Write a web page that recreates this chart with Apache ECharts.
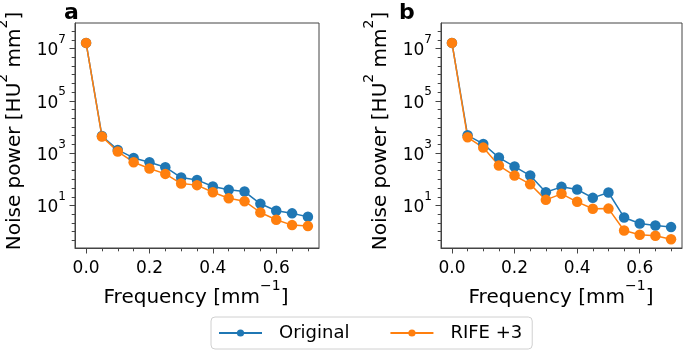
<!DOCTYPE html>
<html>
<head>
<meta charset="utf-8">
<script src="https://cdn.jsdelivr.net/npm/echarts@6/dist/echarts.min.js"></script>
<style>
  html, body { margin: 0; padding: 0; background: #fff; }
  #chart { width: 685px; height: 352px; }
</style>
</head>
<body>
<div id="chart"></div>
<script>
var freq = [0, 0.05, 0.1, 0.15, 0.2, 0.25, 0.3, 0.35, 0.4, 0.45, 0.5, 0.55, 0.6, 0.65, 0.7]
var aOriginal = [1.64e7, 4540, 1330, 658, 450, 290, 117, 95, 53, 40, 34, 11.6, 6.3, 5.0, 3.7]
var aRife = [1.64e7, 4290, 1150, 450, 258, 161, 69, 60, 32, 19, 14.6, 5.4, 2.84, 1.78, 1.63]
var bOriginal = [1.64e7, 4810, 2250, 678, 307, 139, 32, 51.5, 40.7, 19.6, 31.3, 3.49, 2.06, 1.73, 1.49]
var bRife = [1.64e7, 4040, 1630, 336, 139, 65, 16.4, 27.9, 13.8, 7.5, 7.6, 1.11, 0.76, 0.70, 0.51]
var seriesNames = ['Original', 'RIFE +3']
var xTicks = [0, 0.2, 0.4, 0.6]
var xMinorTicks = [0.05, 0.1, 0.15, 0.25, 0.3, 0.35, 0.45, 0.5, 0.55, 0.65, 0.7]
var yTickPowers = [1, 3, 5, 7]
var yMinorPowers = [-1 / 3, 0, 1 / 3, 2 / 3, 1, 4 / 3, 5 / 3, 2, 7 / 3, 8 / 3, 3, 10 / 3, 11 / 3, 4, 13 / 3, 14 / 3, 5, 16 / 3, 17 / 3, 6, 19 / 3, 20 / 3, 7, 22 / 3, 23 / 3]

var font = 'DejaVu Sans'
var frame = '#444'
var colors = ['#1f77b4', '#ff7f0e']

// log10 of the values, drawn on a linear axis so ticks sit where matplotlib put them
function toLog(values) {
  return values.map(function (v, i) { return [freq[i], Math.log10(v)] })
}

function xMajor(grid) {
  return {
    type: 'value', gridIndex: grid, position: 'bottom', min: -0.035, max: 0.735,
    axisLine: { show: true, onZero: false, lineStyle: { color: frame, width: 1 } },
    axisTick: { show: true, customValues: xTicks, length: 5.5, lineStyle: { color: frame, width: 1 } },
    axisLabel: {
      show: true, customValues: xTicks, margin: 12, color: '#000', fontFamily: font, fontSize: 17,
      formatter: function (v) { return v.toFixed(1) }
    },
    splitLine: { show: false }
  }
}
function xMinor(grid) {
  return {
    type: 'value', gridIndex: grid, position: 'bottom', min: -0.035, max: 0.735,
    axisLine: { show: false, onZero: false },
    axisTick: { show: true, customValues: xMinorTicks, length: 3.3, lineStyle: { color: frame, width: 1 } },
    axisLabel: { show: false },
    splitLine: { show: false }
  }
}
function yMajor(grid) {
  return {
    type: 'value', gridIndex: grid, position: 'left', min: -0.625, max: 7.975,
    axisLine: { show: true, onZero: false, lineStyle: { color: frame, width: 1 } },
    axisTick: { show: true, customValues: yTickPowers, length: 5.5, lineStyle: { color: frame, width: 1 } },
    axisLabel: {
      show: true, customValues: yTickPowers, margin: 9, color: '#000',
      fontFamily: font, fontSize: 17,
      formatter: function (v) { return '{m|10}{s|' + v + '}' },
      rich: {
        m: { fontFamily: font, fontSize: 17, color: '#000', padding: [5, 0, 0, 0] },
        s: { fontFamily: font, fontSize: 12, color: '#000', padding: [0, 0, 17, 0] }
      }
    },
    splitLine: { show: false }
  }
}
function yMinor(grid) {
  return {
    type: 'value', gridIndex: grid, position: 'left', min: -0.625, max: 7.975,
    axisLine: { show: false, onZero: false },
    axisTick: { show: true, customValues: yMinorPowers, length: 3.3, lineStyle: { color: frame, width: 1 } },
    axisLabel: { show: false },
    splitLine: { show: false }
  }
}
function line(name, data, color, xi, yi) {
  return {
    name: name, type: 'line', xAxisIndex: xi, yAxisIndex: yi,
    data: toLog(data),
    symbol: 'circle', symbolSize: 10.5, showSymbol: true,
    lineStyle: { color: color, width: 1.5 },
    itemStyle: { color: color },
    emphasis: { disabled: true },
    animation: false
  }
}

var supRich = {
  t: { fontFamily: font, fontSize: 20, color: '#000' },
  s: { fontFamily: font, fontSize: 14, color: '#000', padding: [0, 0, 24, 0] }
}
function xTitle(cx) {
  return {
    type: 'text', x: cx, y: 298,
    style: {
      text: '{t|Frequency [mm}{s|\u22121}{t|]}', rich: supRich,
      align: 'center', verticalAlign: 'middle'
    }
  }
}
function yTitle(cx) {
  return {
    type: 'text', x: cx, y: 131, rotation: Math.PI / 2,
    style: {
      text: '{t|Noise power [HU}{s|2}{t| mm}{s|2}{t|]}', rich: supRich,
      align: 'center', verticalAlign: 'middle'
    }
  }
}
function panelLetter(letter, x) {
  return {
    type: 'text', x: x, y: 13.5,
    style: { text: letter, fontFamily: font, fontSize: 22, fontWeight: 'bold', fill: '#000', align: 'left', verticalAlign: 'middle' }
  }
}

var chart = echarts.init(document.getElementById('chart'), null, { renderer: 'canvas' })
var option = {
  animation: false,
  grid: [
    { left: 75, top: 23, width: 244, height: 225, show: true, borderColor: frame, borderWidth: 1, backgroundColor: 'transparent' },
    { left: 441, top: 23, width: 241, height: 225, show: true, borderColor: frame, borderWidth: 1, backgroundColor: 'transparent' }
  ],
  xAxis: [xMajor(0), xMinor(0), xMajor(1), xMinor(1)],
  yAxis: [yMajor(0), yMinor(0), yMajor(1), yMinor(1)],
  legend: {
    data: seriesNames,
    left: 211, top: 317,
    orient: 'horizontal',
    padding: [7, 10, 7, 7],
    itemGap: 40,
    itemWidth: 43, itemHeight: 9,
    borderColor: '#d0d0d0', borderWidth: 1, borderRadius: 4,
    textStyle: { fontFamily: font, fontSize: 18, color: '#000', padding: [0, 0, 0, 12] }
  },
  graphic: [
    panelLetter('a', 64),
    panelLetter('b', 399),
    yTitle(15),
    yTitle(381),
    xTitle(196),
    xTitle(561)
  ],
  series: [
    line(seriesNames[0], aOriginal, colors[0], 0, 0),
    line(seriesNames[1], aRife, colors[1], 0, 0),
    line(seriesNames[0], bOriginal, colors[0], 2, 2),
    line(seriesNames[1], bRife, colors[1], 2, 2)
  ]
}
chart.setOption(option)
</script>
</body>
</html>
